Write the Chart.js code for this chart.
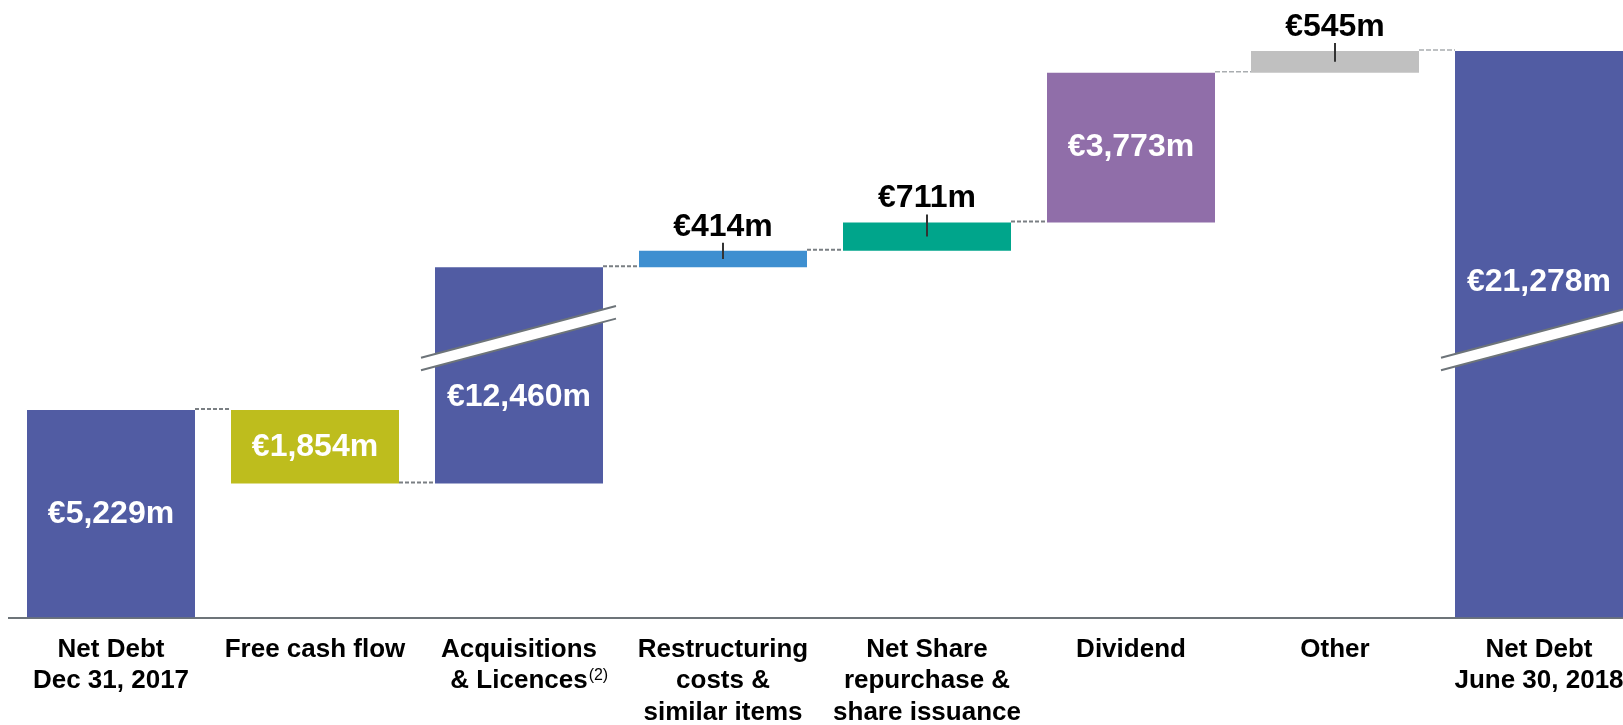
<!DOCTYPE html>
<html>
<head>
<meta charset="utf-8">
<script src="https://cdn.jsdelivr.net/npm/chart.js@4/dist/chart.umd.min.js"></script>
<style>
  html, body { margin: 0; padding: 0; background: #ffffff; overflow: hidden; }
  #wrap { position: absolute; left: 0; top: 0; width: 1641px; height: 725px; }
</style>
</head>
<body>
<div id="wrap"><canvas id="c" width="1641" height="725" style="width:1641px;height:725px"></canvas></div>
<script>
// ---------- DATA ----------
const categories = [
  ["Net Debt", "Dec 31, 2017"],
  "Free cash flow",
  ["Acquisitions", "& Licences"],
  ["Restructuring", "costs &", "similar items"],
  ["Net Share", "repurchase &", "share issuance"],
  "Dividend",
  "Other",
  ["Net Debt", "June 30, 2018"]
];
const amounts = [5229, -1854, 12460, 414, 711, 3773, 545, 21278];   // €m
const barTypes = ["total", "step", "step", "step", "step", "step", "step", "total"];
const footnotes = ["", "", "(2)", "", "", "", "", ""];

// ---------- STYLE ----------
const barColors = ["#515CA3", "#BEBD1D", "#515CA3", "#3E8FD0", "#00A58B", "#906EA9", "#C0C0C0", "#515CA3"];
const connectorStyles = [
  { color: "#7a7f83", dash: [4, 2], width: 2 },
  { color: "#7a7f83", dash: [4, 2], width: 2 },
  { color: "#7a7f83", dash: [4, 2], width: 2 },
  { color: "#7a7f83", dash: [4, 2], width: 2 },
  { color: "#7a7f83", dash: [4, 2], width: 2 },
  { color: "#a9adb0", dash: [5, 2], width: 1.5 },
  { color: "#a9adb0", dash: [5, 2], width: 1.5 }
];
const FONT = "'Liberation Sans', Arial, Helvetica, sans-serif";
const AXIS_COLOR = "#6D7479";
// broken axis: values above BREAK_AT are shown shifted down by BREAK_GAP
const BREAK_AT = 7040;
const BREAK_GAP = 7010;
const Y_MAX = 15554;
const TICK_PAD = 17;
const TICK_FONT_SIZE = 26;
const TICK_LINE_H = 1.2;

// ---------- DERIVED ----------
const disp = v => (v > BREAK_AT ? Math.max(BREAK_AT, v - BREAK_GAP) : v);
const ranges = [];
const levels = [];
let running = 0;
amounts.forEach((v, i) => {
  if (barTypes[i] === "total") {
    ranges.push([0, v]);
    running = v;
  } else {
    const s = running, e = running + v;
    ranges.push([Math.min(s, e), Math.max(s, e)]);
    running = e;
  }
  levels.push(running);
});
const floating = ranges.map(([a, b]) => [disp(a), disp(b)]);
const fmt = v => "€" + Math.abs(v).toLocaleString("en-US") + "m";

const waterfallPlugin = {
  id: "waterfall",
  afterDatasetsDraw(chart) {
    const ctx = chart.ctx;
    const meta = chart.getDatasetMeta(0);
    const ys = chart.scales.y;
    const breakY = ys.getPixelForValue(BREAK_AT);
    const bars = meta.data.map(b => {
      const p = b.getProps(["x", "y", "base", "width"], true);
      const top = Math.min(p.y, p.base), bottom = Math.max(p.y, p.base);
      return { x: p.x, w: p.width, top, bottom, left: p.x - p.width / 2, right: p.x + p.width / 2 };
    });

    // connectors
    ctx.save();
    for (let i = 0; i < bars.length - 1; i++) {
      const st = connectorStyles[i];
      const yy = ys.getPixelForValue(disp(levels[i])) - 1;
      ctx.beginPath();
      ctx.setLineDash(st.dash);
      ctx.strokeStyle = st.color;
      ctx.lineWidth = st.width;
      ctx.moveTo(bars[i].right, yy);
      ctx.lineTo(bars[i + 1].left, yy);
      ctx.stroke();
    }
    ctx.restore();

    // break marks
    ctx.save();
    const slope = 0.265, half = 6.3;
    bars.forEach((b, i) => {
      const [a, c] = ranges[i];
      if (!(a < BREAK_AT && c > BREAK_AT + BREAK_GAP)) return;
      const x0 = b.left - 14, x1 = b.right + 13;
      const yAt = x => breakY - slope * (x - b.x);
      ctx.beginPath();
      ctx.moveTo(x0, yAt(x0) - half);
      ctx.lineTo(x1, yAt(x1) - half);
      ctx.lineTo(x1, yAt(x1) + half);
      ctx.lineTo(x0, yAt(x0) + half);
      ctx.closePath();
      ctx.fillStyle = "#ffffff";
      ctx.fill();
      ctx.strokeStyle = AXIS_COLOR;
      ctx.lineWidth = 2;
      ctx.beginPath();
      ctx.moveTo(x0, yAt(x0) - half); ctx.lineTo(x1, yAt(x1) - half);
      ctx.moveTo(x0, yAt(x0) + half); ctx.lineTo(x1, yAt(x1) + half);
      ctx.stroke();
    });
    ctx.restore();

    // value labels
    ctx.save();
    ctx.font = "bold 32px " + FONT;
    ctx.textAlign = "center";
    bars.forEach((b, i) => {
      const txt = fmt(amounts[i]);
      const h = b.bottom - b.top;
      const [a, c] = ranges[i];
      const broken = a < BREAK_AT && c > BREAK_AT + BREAK_GAP;
      if (broken) {
        ctx.fillStyle = "#ffffff";
        ctx.textBaseline = "middle";
        const yy = a > 0 ? breakY + 59 : breakY - 56;
        ctx.fillText(txt, b.x, yy);
      } else if (h >= 40) {
        ctx.fillStyle = "#ffffff";
        ctx.textBaseline = "middle";
        ctx.fillText(txt, b.x, (b.top + b.bottom) / 2);
      } else {
        ctx.fillStyle = "#000000";
        ctx.textBaseline = "alphabetic";
        ctx.fillText(txt, b.x, b.top - 15);
        ctx.beginPath();
        ctx.strokeStyle = "#333333";
        ctx.lineWidth = 2;
        ctx.moveTo(b.x, b.top - 8);
        ctx.lineTo(b.x, (b.top + b.bottom) / 2);
        ctx.stroke();
      }
    });
    ctx.restore();
  },
  afterDraw(chart) {
    // footnote superscripts after the last line of a category label
    const ctx = chart.ctx;
    const xs = chart.scales.x;
    const lineH = TICK_FONT_SIZE * TICK_LINE_H;
    ctx.save();
    footnotes.forEach((fn, i) => {
      if (!fn) return;
      const lab = categories[i];
      const lines = Array.isArray(lab) ? lab : [lab];
      const last = lines[lines.length - 1];
      ctx.font = "bold " + TICK_FONT_SIZE + "px " + FONT;
      const w = ctx.measureText(last).width;
      const cx = xs.getPixelForTick(i);
      const mid = chart.chartArea.bottom + TICK_PAD + lineH / 2 + (lines.length - 1) * lineH;
      ctx.font = "16px " + FONT;
      ctx.fillStyle = "#000000";
      ctx.textAlign = "left";
      ctx.textBaseline = "alphabetic";
      ctx.fillText(fn, cx + w / 2 + 1, mid - 1.5);
    });
    ctx.restore();
  }
};

new Chart(document.getElementById("c"), {
  type: "bar",
  data: {
    labels: categories,
    datasets: [{
      data: floating,
      backgroundColor: barColors,
      borderWidth: 0,
      borderSkipped: false,
      categoryPercentage: 1.0,
      barPercentage: 168 / 204
    }]
  },
  options: {
    responsive: false,
    animation: false,
    devicePixelRatio: 1,
    layout: { padding: { left: 9, right: 0, top: 0, bottom: 0 } },
    plugins: { legend: { display: false }, tooltip: { enabled: false } },
    scales: {
      x: {
        z: 1,
        grid: { display: false, drawTicks: false },
        border: { display: true, color: AXIS_COLOR, width: 2 },
        ticks: {
          color: "#000000",
          padding: TICK_PAD,
          maxRotation: 0,
          autoSkip: false,
          font: { family: FONT, size: TICK_FONT_SIZE, weight: "bold", lineHeight: TICK_LINE_H }
        },
        afterFit(scale) { scale.height = 107.5; }
      },
      y: {
        display: false,
        min: 0,
        max: Y_MAX
      }
    }
  },
  plugins: [waterfallPlugin]
});
</script>
</body>
</html>
